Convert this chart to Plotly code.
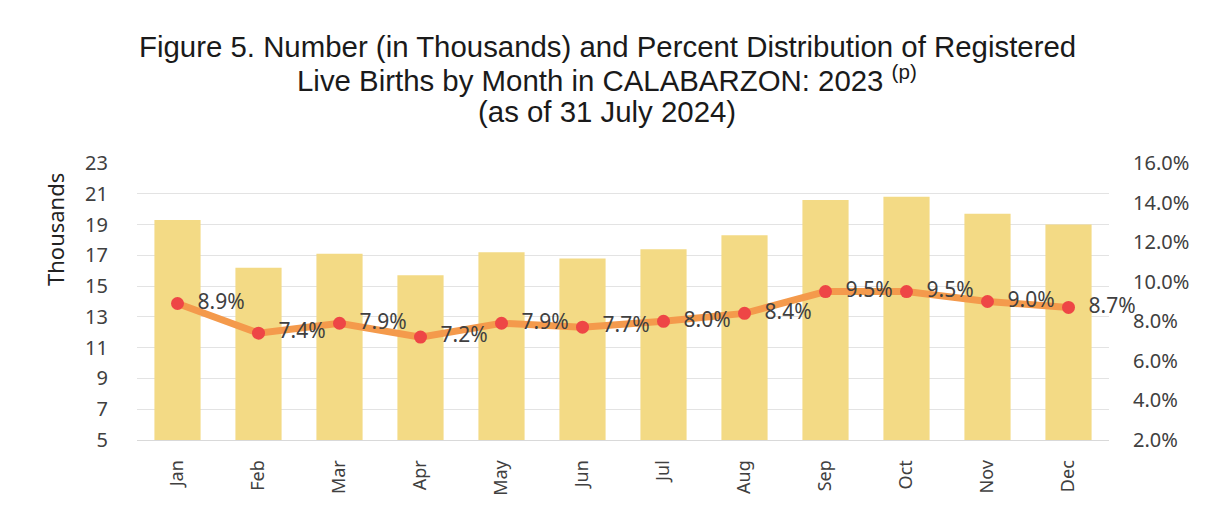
import plotly.graph_objects as go

months = ["Jan", "Feb", "Mar", "Apr", "May", "Jun", "Jul", "Aug", "Sep", "Oct", "Nov", "Dec"]
births_thousands = [19.3, 16.2, 17.1, 15.7, 17.2, 16.8, 17.4, 18.3, 20.6, 20.8, 19.7, 19.0]
percent = [8.9, 7.4, 7.9, 7.2, 7.9, 7.7, 8.0, 8.4, 9.5, 9.5, 9.0, 8.7]
left_ticks = [5, 7, 9, 11, 13, 15, 17, 19, 21, 23]
right_ticks = [2, 4, 6, 8, 10, 12, 14, 16]
title_lines = [
    "Figure 5. Number (in Thousands) and Percent Distribution of Registered",
    "Live Births by Month in CALABARZON: 2023 <sup>(p)</sup>",
    "(as of 31 July 2024)",
]

FONT = "Noto Sans"
TXT = "#404040"
W, H = 1207, 510
L, R, T, B = 137, 98, 163, 70
PW, PH = W - L - R, H - T - B


def px_x(x):
    return (x - L) / PW


def px_y(y):
    return (H - B - y) / PH


fig = go.Figure()
fig.add_trace(go.Bar(
    x=months, y=births_thousands, marker=dict(color="#F3DA85", line=dict(width=0)),
    yaxis="y", showlegend=False, hoverinfo="y"))
fig.add_trace(go.Scatter(
    x=months, y=percent, yaxis="y2", mode="lines+markers+text",
    line=dict(color="#F49A4C", width=7),
    marker=dict(color="#EE4646", size=13),
    text=["\u00a0\u00a0" + f"{p:.1f}%" for p in percent], textposition="middle right",
    cliponaxis=False,
    textfont=dict(family=FONT, size=21, color=TXT), showlegend=False))

annotations = []
for yc, line in zip([46, 78.5, 111], title_lines):
    annotations.append(dict(
        text=line, x=px_x(607), y=px_y(yc), xref="paper", yref="paper",
        xanchor="center", yanchor="middle", showarrow=False,
        font=dict(family="Liberation Sans", size=29.4, color="#1a1a1a")))
annotations.append(dict(
    text="Thousands", x=px_x(55), y=px_y(230), xref="paper", yref="paper",
    xanchor="center", yanchor="middle", showarrow=False, textangle=-90,
    font=dict(family=FONT, size=22, color="#222")))

fig.update_layout(
    width=W, height=H,
    margin=dict(l=L, r=R, t=T, b=B, autoexpand=False),
    paper_bgcolor="white", plot_bgcolor="white",
    bargap=0.43,
    annotations=annotations,
    xaxis=dict(range=[-0.5, len(months) - 0.5], autorange=False,
               tickangle=-90, tickfont=dict(family=FONT, size=18, color=TXT),
               showline=True, linecolor="#D9D9D9", linewidth=1, ticks="",
               showgrid=False, ticklabelstandoff=12),
    yaxis=dict(range=[5, 23], tickvals=left_ticks, showgrid=True, gridcolor="#E3E3E3",
               gridwidth=1, zeroline=False, ticklabelstandoff=28,
               tickfont=dict(family=FONT, size=20, color=TXT)),
    yaxis2=dict(range=[2, 16], tickvals=right_ticks,
                ticktext=[f"{v:.1f}%" for v in right_ticks],
                overlaying="y", side="right", ticklabelstandoff=23,
                showgrid=False, zeroline=False,
                tickfont=dict(family=FONT, size=20, color=TXT)),
)

fig.write_html("out.html", config={"displayModeBar": False},
               post_script="document.body.style.margin='0';")
